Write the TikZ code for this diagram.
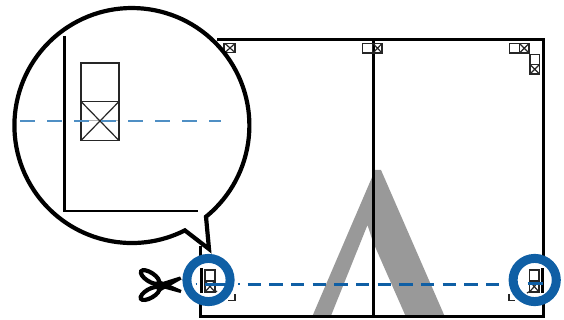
\documentclass[tikz,border=0pt]{standalone}
\definecolor{ringblue}{HTML}{0F5FA5}
\definecolor{paleblue}{HTML}{4F8FC4}
\definecolor{wedge}{HTML}{999999}
\tikzset{
  frameline/.style={draw=black,line width=2.6pt},
  markbox/.style={draw=black!85,line width=1.2pt},
  bigbox/.style={draw=black!85,line width=1.2pt},
  cutline/.style={draw=ringblue,line width=3pt,dash pattern=on 13.3pt off 8.37pt},
  zoomcut/.style={draw=paleblue,line width=1.7pt,dash pattern=on 15pt off 12pt},
  ring/.style={draw=ringblue,fill=white,line width=9pt},
  bubble/.style={draw=black,fill=white,line width=4.2pt,line join=miter},
  shears/.style={draw=black,line width=4.2pt},
}
\begin{document}
\begin{tikzpicture}[x=1pt,y=-1pt]
\useasboundingbox (0,0) rectangle (564,320);
% gray wedge
\fill[wedge] (312,317) -- (373,175) -- (374,170) -- (381,170) -- (445,317) -- (406,317) -- (373,242) -- (367.5,225) -- (330.5,317) -- cycle;
% frame
\draw[frameline] (217,39.5) -- (543.5,39.5) -- (543.5,316.5) -- (200.5,316.5) -- (200.5,246);
\draw[frameline,line width=3.4pt] (373.2,39) -- (373.2,316.5);
\draw[draw=black,line width=3pt] (347,39.5) -- (397,39.5);
% top marks
\draw[markbox] (224,43.5) rectangle (235,52.5);
\draw[markbox] (225,43.5) -- (235,52.5) (235,43.5) -- (225,52.5);
\draw[markbox] (362.5,43.5) rectangle (382,53) (372.5,43.5) -- (372.5,53);
\draw[markbox] (373,43.5) -- (382,53) (382,43.5) -- (373,53);
\draw[markbox] (509.5,43.5) rectangle (529,53) (519.5,43.5) -- (519.5,53);
\draw[markbox] (519.5,43.5) -- (529,53) (529,43.5) -- (519.5,53);
\draw[markbox] (530,54.5) rectangle (539.5,74) (530,64.5) -- (539.5,64.5);
\draw[markbox] (530,64.5) -- (539.5,74) (539.5,64.5) -- (530,74);
% corner marks
\draw[markbox,line width=1.4pt] (228,300.5) -- (235,300.5) -- (235,294);
\draw[markbox,line width=1.4pt] (509,294) -- (509,300.5) -- (515,300.5);
% main cut line
\draw[cutline] (247.67,284) -- (499,284);
% bubble
\draw[bubble] (206,216.7) arc[start angle=50.9,end angle=-296.8,radius=117.5] -- (209,249) -- cycle;
% bubble contents
\draw[frameline] (64.5,36) -- (64.5,211) -- (198,211);
\draw[draw=black!30,line width=0.8pt] (81,120) -- (119,120);
\draw[bigbox] (81,63) rectangle (119,140.5) (81,101.5) -- (119,101.5);
\draw[bigbox] (81,101.5) -- (119,140.5) (119,101.5) -- (81,140.5);
\draw[zoomcut] (20,121) -- (221,121);
% left lens
\draw[ring] (208.5,280) circle[radius=21.6];
\draw[draw=black,line width=3pt] (201.7,268) -- (201.7,293);
\draw[markbox] (205,270) rectangle (215,292) (205,281) -- (215,281);
\draw[markbox] (205,281) -- (215,292) (215,281) -- (205,292);
\draw[markbox] (215,292.5) -- (217,291);
\draw[draw=ringblue,line width=3pt] (205,284) -- (226.5,284);
\draw[draw=ringblue,line width=1.4pt] (195.5,284) -- (197,284);
\draw[draw=ringblue,line width=1.4pt] (238,284) -- (239.5,284);
% right lens
\draw[ring] (534.7,280) circle[radius=21.6];
\draw[draw=black,line width=3pt] (542.7,268) -- (542.7,293);
\draw[markbox] (529.5,270) rectangle (539,292) (529.5,281) -- (539,281);
\draw[markbox] (529.5,281) -- (539,292) (539,281) -- (529.5,292);
\draw[markbox] (527,293) -- (529.5,291.5);
\draw[draw=ringblue,line width=3pt] (527.7,283.5) -- (543,283.5);
% scissors
\draw[shears,rotate around={-33:(150,277)}] (150,277) ellipse[x radius=10.5,y radius=4.4];
\draw[shears,rotate around={30:(150,293.5)}] (150,293.5) ellipse[x radius=10.5,y radius=4.4];
\fill[black] (153,285) -- (180,276.5) -- (181.5,279.5) -- (161,291) -- cycle;
\fill[black] (153,285.5) -- (160,280.5) -- (181.5,290) -- (180.5,293) -- cycle;
\end{tikzpicture}
\end{document}
